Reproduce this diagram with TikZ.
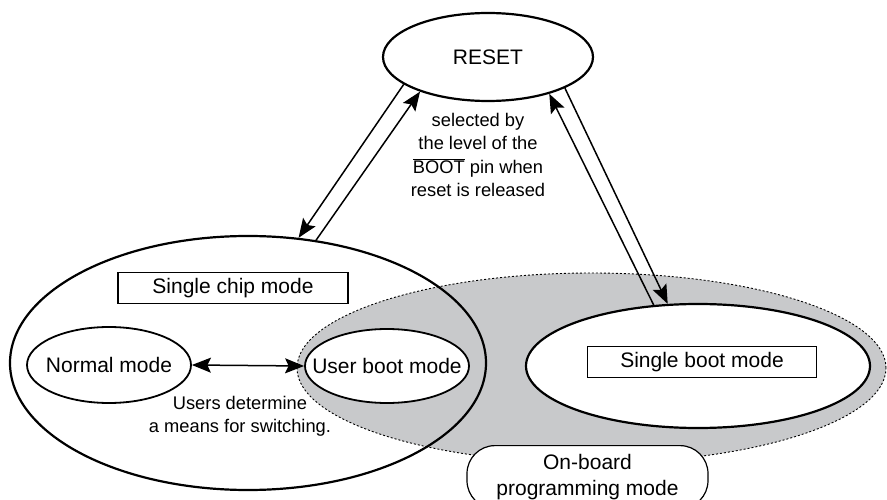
\documentclass[tikz,border=0pt]{standalone}
\usepackage{fontspec}
\setmainfont{Liberation Sans}
\usetikzlibrary{shapes.geometric,arrows.meta}
\definecolor{regiongray}{HTML}{C8C9CB}
\begin{document}
\begin{tikzpicture}[x=1pt,y=-1pt,
  lab/.style={font=\fontsize{21}{26}\selectfont},
  note/.style={font=\fontsize{18.3}{23.3}\selectfont, align=center},
  bigell/.style={ellipse, draw, line width=2.2pt, inner sep=0pt},
  smallell/.style={ellipse, draw, line width=1.8pt, inner sep=0pt, fill=white},
  modebox/.style={rectangle, draw, line width=1.3pt, inner sep=0pt, fill=white},
  link/.style={line width=1.5pt, -{Stealth[length=19pt,width=15pt,inset=3.5pt]}},
]
\useasboundingbox (0,0) rectangle (887,500);
\clip (0,0) rectangle (887,500);
\fill[white] (0,0) rectangle (887,500);

% on-board programming region
\node[ellipse, fill=regiongray, draw, dash pattern=on 2pt off 2pt, line width=0.9pt,
      minimum width=589pt, minimum height=190pt, inner sep=0pt] (onboard) at (591.5,368) {};

% big mode ellipses
\node[bigell, minimum width=476pt, minimum height=254pt] (chip) at (248,363) {};
\node[bigell, fill=white, minimum width=344pt, minimum height=124pt] (boot) at (698,366) {};
\node[bigell, fill=white, minimum width=210pt, minimum height=88pt,
      label={[lab]center:RESET}] (reset) at (488,57) {};

% inner mode ellipses
\node[smallell, minimum width=164pt, minimum height=76pt,
      label={[lab]center:Normal mode}] (normal) at (109,365) {};
\node[smallell, minimum width=164pt, minimum height=74pt,
      label={[lab]center:User boot mode}] (user) at (387,366) {};

% boxes
\node[modebox, minimum width=230pt, minimum height=31pt, lab] (chipbox) at (233,288) {Single chip mode};
\node[modebox, minimum width=229pt, minimum height=31pt, lab] (bootbox) at (702,362) {Single boot mode};
\node[draw, line width=1.2pt, fill=white, rounded corners=28pt, minimum width=241pt,
      minimum height=63pt, inner sep=0pt, align=center, anchor=north, lab] (obbox) at (587.5,445)
      {On-board\\programming mode};

% annotations
\node[note] (sel) at (478,155) {selected by\\the level of the\\$\overline{\hbox{BOOT}}$ pin when\\reset is released};
\node[note] (usr) at (240,416) {Users determine\\a means for switching.};

% connectors
\draw[link] (reset.198) -- (chip.68);
\draw[link] (chip.61) -- (reset.207);
\draw[link] (reset.338) -- (boot.116);
\draw[link] (boot.126) -- (reset.329);
\draw[line width=1.5pt, {Stealth[length=19pt,width=15pt,inset=3.5pt]}-{Stealth[length=19pt,width=15pt,inset=3.5pt]}] (normal.east) -- (user.west);
\end{tikzpicture}
\end{document}
